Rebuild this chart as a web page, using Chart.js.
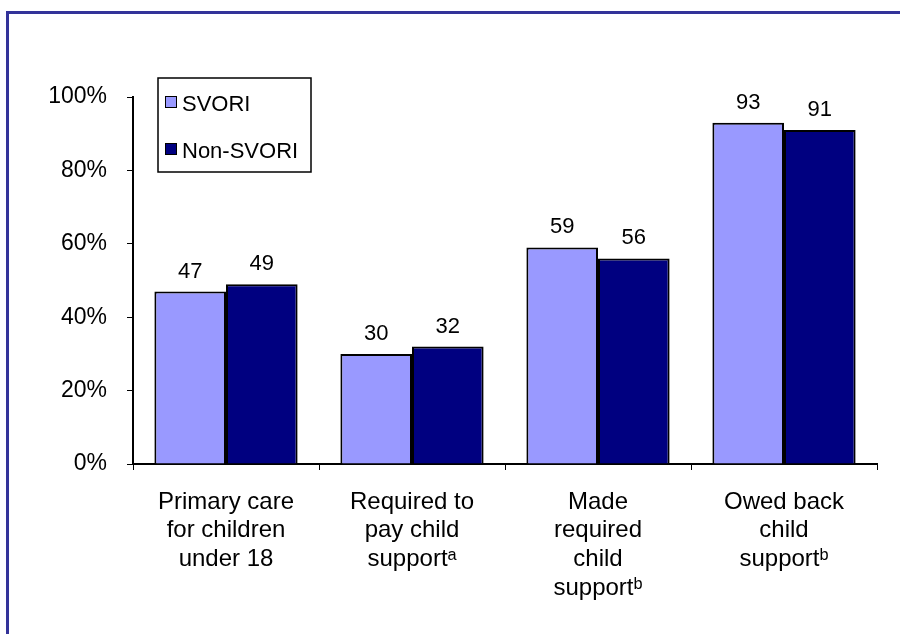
<!DOCTYPE html>
<html>
<head>
<meta charset="utf-8">
<script src="https://cdn.jsdelivr.net/npm/chart.js@4/dist/chart.umd.min.js"></script>
<style>
  html, body { margin: 0; padding: 0; background: #fff; overflow: hidden; }
  #wrap { position: relative; width: 900px; height: 634px; }
  #frame { position: absolute; left: 6px; top: 11px; width: 1000px; height: 1000px;
           border: 3px solid #333399; box-sizing: border-box; pointer-events: none; }
  canvas { position: absolute; left: 0; top: 0; }
</style>
</head>
<body>
<div id="wrap">
  <canvas id="chart" width="900" height="634"></canvas>
  <div id="frame"></div>
</div>
<script>
// categories (multi-line labels as drawn under the axis)
const categories = [
    ['Primary care', 'for children', 'under 18'],
    ['Required to', 'pay child', 'support\u1D43'],
    ['Made', 'required', 'child', 'support\u1D47'],
    ['Owed back', 'child', 'support\u1D47']
];
const seriesNames = ['SVORI', 'Non-SVORI'];
const svoriValues = [47, 30, 59, 93];
const nonSvoriValues = [49, 32, 56, 91];
const yTicks = [0, 20, 40, 60, 80, 100];

const FONT = 'Liberation Sans, Arial, sans-serif';

// numbers above each bar
const barLabels = {
    id: 'barLabels',
    afterDatasetsDraw(chart) {
        const ctx = chart.ctx;
        ctx.save();
        ctx.font = '22px ' + FONT;
        ctx.fillStyle = '#000';
        ctx.textAlign = 'center';
        ctx.textBaseline = 'alphabetic';
        chart.data.datasets.forEach(function (ds, i) {
            chart.getDatasetMeta(i).data.forEach(function (bar, j) {
                ctx.fillText(String(ds.data[j]), bar.x, bar.y - 14);
            });
        });
        ctx.restore();
    }
};

// boxed legend sitting inside the plot, top left
const boxLegend = {
    id: 'boxLegend',
    afterDraw(chart) {
        const ctx = chart.ctx;
        const x = 158, y = 78, w = 153, h = 94;
        ctx.save();
        ctx.fillStyle = '#fff';
        ctx.fillRect(x, y, w, h);
        ctx.strokeStyle = '#000';
        ctx.lineWidth = 1.5;
        ctx.strokeRect(x, y, w, h);
        ctx.font = '22px ' + FONT;
        ctx.textBaseline = 'alphabetic';
        ctx.textAlign = 'left';
        chart.data.datasets.forEach(function (ds, i) {
            const sy = 96 + i * 47;
            ctx.fillStyle = ds.backgroundColor;
            ctx.fillRect(165, sy, 11, 11);
            ctx.lineWidth = 1;
            ctx.strokeRect(165.5, sy + 0.5, 11, 11);
            ctx.fillStyle = '#000';
            ctx.fillText(ds.label, 182, sy + 15);
        });
        ctx.restore();
    }
};

const ctx = document.getElementById('chart').getContext('2d');
new Chart(ctx, {
    type: 'bar',
    data: {
        labels: categories,
        datasets: [
            {
                label: seriesNames[0],
                data: svoriValues,
                backgroundColor: '#9999FF',
                borderColor: '#000',
                borderWidth: 2
            },
            {
                label: seriesNames[1],
                data: nonSvoriValues,
                backgroundColor: '#000080',
                borderColor: '#000',
                borderWidth: 2
            }
        ]
    },
    options: {
        responsive: false,
        animation: false,
        events: [],
        layout: { padding: { left: 0, right: 23, top: 97, bottom: 0 } },
        datasets: {
            bar: { categoryPercentage: 0.77, barPercentage: 1.0 }
        },
        plugins: {
            legend: { display: false },
            tooltip: { enabled: false }
        },
        scales: {
            x: {
                afterFit: function (scale) { scale.height = 170; },
                grid: {
                    offset: true,
                    drawOnChartArea: false,
                    drawTicks: true,
                    tickLength: 6,
                    color: '#000',
                    lineWidth: 1
                },
                border: { color: '#000', width: 2 },
                ticks: {
                    autoSkip: false,
                    maxRotation: 0,
                    minRotation: 0,
                    padding: 18,
                    color: '#000',
                    font: { family: FONT, size: 24, lineHeight: 1.19 }
                }
            },
            y: {
                min: 0,
                max: 100,
                afterFit: function (scale) { scale.width = 133; },
                afterBuildTicks: function (scale) {
                    scale.ticks = yTicks.map(function (v) { return { value: v }; });
                },
                grid: {
                    drawOnChartArea: false,
                    drawTicks: true,
                    tickLength: 6,
                    color: '#000',
                    lineWidth: 1
                },
                border: { color: '#000', width: 2 },
                ticks: {
                    padding: 20,
                    color: '#000',
                    font: { family: FONT, size: 23 },
                    callback: function (v) { return v + '%'; }
                }
            }
        }
    },
    plugins: [barLabels, boxLegend]
});
</script>
</body>
</html>
